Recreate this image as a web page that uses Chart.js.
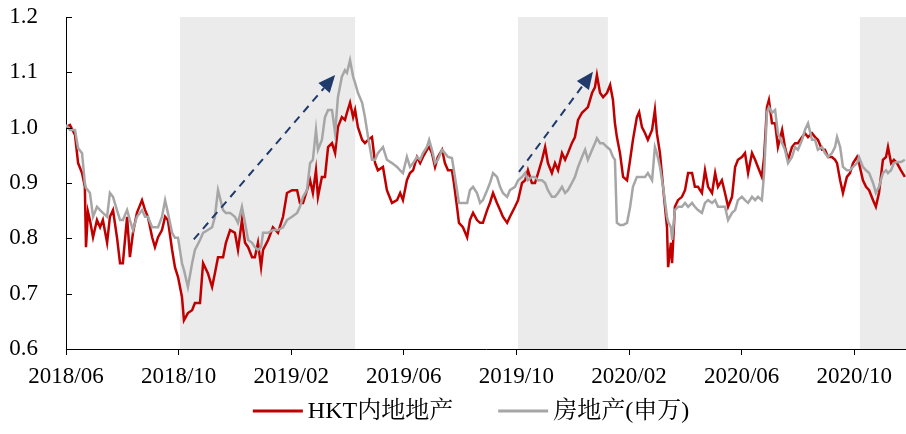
<!DOCTYPE html>
<html>
<head>
<meta charset="utf-8">
<script src="https://cdn.jsdelivr.net/npm/chart.js@4.4.1/dist/chart.umd.min.js"></script>
<style>
  body { margin: 0; background: #fff; }
</style>
</head>
<body>
<canvas id="myChart" width="906" height="434"></canvas>
<script>
// months since 2018/06 (x position of each reading)
const months = [
  0, 0.14, 0.32, 0.43, 0.57, 0.67, 0.71, 0.78, 0.85, 0.96,
  1.10, 1.21, 1.31, 1.46, 1.56, 1.67, 1.81, 1.92, 2.02, 2.17,
  2.27, 2.38, 2.52, 2.70, 2.81, 2.91, 3.06, 3.16, 3.27, 3.41,
  3.52, 3.62, 3.77, 3.87, 3.98, 4.12, 4.19, 4.33, 4.48, 4.58,
  4.76, 4.87, 5.04, 5.19, 5.29, 5.40, 5.58, 5.68, 5.83, 6.00,
  6.11, 6.25, 6.36, 6.47, 6.61, 6.71, 6.82, 6.93, 7.00, 7.18,
  7.35, 7.53, 7.71, 7.85, 8.03, 8.21, 8.31, 8.42, 8.56, 8.67,
  8.77, 8.88, 8.95, 9.09, 9.20, 9.31, 9.45, 9.56, 9.66, 9.80,
  9.91, 9.98, 10.09, 10.20, 10.27, 10.37, 10.52, 10.62, 10.73, 10.87,
  10.98, 11.08, 11.26, 11.40, 11.58, 11.76, 11.87, 11.97, 12.11, 12.22,
  12.33, 12.47, 12.58, 12.68, 12.82, 12.90, 13.00, 13.11, 13.21, 13.36,
  13.46, 13.57, 13.71, 13.78, 13.89, 13.96, 14.10, 14.25, 14.35, 14.46,
  14.60, 14.71, 14.81, 14.96, 15.06, 15.17, 15.31, 15.42, 15.52, 15.67,
  15.77, 15.95, 16.06, 16.20, 16.31, 16.41, 16.55, 16.66, 16.77, 16.91,
  17.02, 17.12, 17.26, 17.37, 17.48, 17.62, 17.73, 17.83, 17.97, 18.08,
  18.19, 18.33, 18.44, 18.54, 18.69, 18.79, 18.86, 18.97, 19.08, 19.22,
  19.33, 19.43, 19.50, 19.57, 19.68, 19.79, 19.93, 20.04, 20.14, 20.28,
  20.36, 20.46, 20.57, 20.67, 20.82, 20.92, 20.99, 21.10, 21.21, 21.35,
  21.39, 21.49, 21.53, 21.63, 21.74, 21.88, 21.99, 22.10, 22.24, 22.34,
  22.45, 22.59, 22.70, 22.81, 22.95, 23.06, 23.16, 23.30, 23.41, 23.52,
  23.66, 23.77, 23.87, 24.01, 24.12, 24.23, 24.37, 24.48, 24.58, 24.72,
  24.80, 24.90, 24.97, 25.08, 25.19, 25.29, 25.44, 25.54, 25.65, 25.79,
  25.90, 26.00, 26.15, 26.25, 26.36, 26.50, 26.61, 26.71, 26.86, 26.96,
  27.07, 27.21, 27.32, 27.39, 27.50, 27.60, 27.74, 27.85, 27.96, 28.10,
  28.17, 28.31, 28.42, 28.53, 28.67, 28.77, 28.88, 29.02, 29.13, 29.20,
  29.31, 29.41, 29.52, 29.66, 29.80
];

// HKT内地地产
const hkt = [
  1.001, 1.005, 0.987, 0.936, 0.918, 0.893, 0.784, 0.848, 0.833, 0.802,
  0.833, 0.820, 0.833, 0.792, 0.839, 0.851, 0.802, 0.755, 0.755, 0.839,
  0.766, 0.810, 0.846, 0.869, 0.851, 0.839, 0.802, 0.784, 0.802, 0.815,
  0.839, 0.833, 0.779, 0.748, 0.730, 0.694, 0.652, 0.665, 0.670, 0.683,
  0.683, 0.755, 0.737, 0.712, 0.737, 0.766, 0.766, 0.792, 0.815, 0.810,
  0.779, 0.833, 0.792, 0.784, 0.766, 0.766, 0.792, 0.748, 0.779, 0.797,
  0.820, 0.810, 0.839, 0.882, 0.887, 0.887, 0.864, 0.864, 0.887, 0.905,
  0.882, 0.923, 0.875, 0.911, 0.911, 0.965, 0.972, 0.954, 1.001, 1.019,
  1.014, 1.027, 1.045, 1.019, 1.032, 1.001, 0.978, 0.972, 0.978, 0.983,
  0.936, 0.923, 0.929, 0.887, 0.864, 0.869, 0.882, 0.869, 0.905, 0.918,
  0.923, 0.947, 0.936, 0.947, 0.960, 0.965, 0.954, 0.929, 0.947, 0.960,
  0.936, 0.923, 0.923, 0.900, 0.857, 0.828, 0.820, 0.802, 0.833, 0.846,
  0.833, 0.828, 0.828, 0.851, 0.864, 0.882, 0.864, 0.851, 0.839, 0.828,
  0.839, 0.857, 0.869, 0.900, 0.905, 0.923, 0.900, 0.900, 0.918, 0.942,
  0.965, 0.936, 0.918, 0.936, 0.923, 0.954, 0.942, 0.954, 0.972, 0.983,
  1.014, 1.027, 1.032, 1.037, 1.063, 1.073, 1.095, 1.063, 1.055, 1.063,
  1.077, 1.050, 1.008, 0.983, 0.954, 0.911, 0.905, 0.942, 0.978, 1.019,
  1.028, 1.001, 0.990, 0.978, 0.996, 1.032, 0.990, 0.954, 0.893, 0.820,
  0.748, 0.792, 0.755, 0.857, 0.869, 0.875, 0.887, 0.918, 0.918, 0.893,
  0.893, 0.882, 0.923, 0.893, 0.882, 0.918, 0.893, 0.905, 0.882, 0.857,
  0.875, 0.929, 0.942, 0.947, 0.954, 0.918, 0.954, 0.942, 0.929, 0.911,
  0.947, 1.037, 1.050, 1.008, 1.008, 0.965, 0.996, 0.965, 0.942, 0.965,
  0.972, 0.972, 0.983, 0.990, 0.983, 0.990, 0.983, 0.978, 0.960, 0.960,
  0.947, 0.947, 0.942, 0.936, 0.905, 0.882, 0.911, 0.918, 0.936, 0.947,
  0.936, 0.905, 0.893, 0.887, 0.869, 0.857, 0.882, 0.942, 0.947, 0.965,
  0.936, 0.942, 0.936, 0.923, 0.911
];

// 房地产(申万)
const sw = [
  1.005, 0.996, 0.996, 0.963, 0.954, 0.900, 0.891, 0.887, 0.882, 0.839,
  0.857, 0.851, 0.846, 0.839, 0.882, 0.875, 0.851, 0.833, 0.833, 0.851,
  0.833, 0.815, 0.839, 0.851, 0.839, 0.839, 0.820, 0.820, 0.820, 0.839,
  0.869, 0.846, 0.810, 0.801, 0.801, 0.755, 0.743, 0.712, 0.755, 0.779,
  0.797, 0.810, 0.815, 0.820, 0.839, 0.887, 0.851, 0.846, 0.846, 0.839,
  0.828, 0.857, 0.828, 0.797, 0.792, 0.784, 0.779, 0.784, 0.810, 0.810,
  0.815, 0.815, 0.820, 0.833, 0.839, 0.846, 0.857, 0.875, 0.887, 0.936,
  0.942, 0.996, 0.960, 0.978, 1.019, 1.032, 1.032, 0.990, 1.055, 1.092,
  1.104, 1.099, 1.122, 1.092, 1.081, 1.063, 1.045, 1.019, 0.983, 0.942,
  0.942, 0.954, 0.965, 0.942, 0.936, 0.929, 0.923, 0.918, 0.947, 0.929,
  0.936, 0.947, 0.942, 0.954, 0.965, 0.978, 0.960, 0.936, 0.942, 0.960,
  0.954, 0.947, 0.945, 0.923, 0.887, 0.864, 0.864, 0.864, 0.887, 0.893,
  0.882, 0.864, 0.869, 0.887, 0.900, 0.918, 0.911, 0.893, 0.882, 0.875,
  0.887, 0.893, 0.905, 0.911, 0.918, 0.905, 0.911, 0.911, 0.905, 0.905,
  0.900, 0.887, 0.875, 0.875, 0.882, 0.893, 0.882, 0.887, 0.900, 0.911,
  0.929, 0.947, 0.960, 0.942, 0.960, 0.972, 0.981, 0.972, 0.972, 0.965,
  0.960, 0.947, 0.942, 0.828, 0.824, 0.824, 0.828, 0.857, 0.893, 0.911,
  0.911, 0.911, 0.911, 0.918, 0.905, 0.965, 0.954, 0.929, 0.893, 0.839,
  0.830, 0.820, 0.797, 0.851, 0.857, 0.857, 0.864, 0.857, 0.864, 0.857,
  0.851, 0.846, 0.864, 0.869, 0.864, 0.869, 0.857, 0.857, 0.857, 0.833,
  0.846, 0.851, 0.869, 0.875, 0.869, 0.864, 0.875, 0.869, 0.875, 0.869,
  0.918, 1.027, 1.037, 1.027, 1.032, 0.990, 0.972, 0.960, 0.936, 0.947,
  0.965, 0.960, 0.978, 0.996, 1.008, 0.978, 0.978, 0.960, 0.965, 0.954,
  0.947, 0.954, 0.965, 0.983, 0.965, 0.929, 0.923, 0.923, 0.929, 0.936,
  0.947, 0.929, 0.923, 0.918, 0.900, 0.882, 0.893, 0.918, 0.923, 0.918,
  0.923, 0.936, 0.938, 0.938, 0.942
];

const tickLabels = ["2018/06", "2018/10", "2019/02", "2019/06", "2019/10", "2020/02", "2020/06", "2020/10"];
const lastMonth = 29.84;

// shaded periods, in months since 2018/06
const shadeStart = [4.05, 16.06, 28.20];
const shadeEnd = [10.27, 19.25, 29.84];

// dashed trend arrows: [x0, y0, x1, y1]
const arrows = [
  [4.54, 0.798, 9.56, 1.095],
  [16.09, 0.920, 18.72, 1.101]
];

const serif = "'Liberation Serif', 'Times New Roman', 'Noto Serif CJK SC', 'Noto Sans CJK SC', serif";

const shadePlugin = {
  id: "shade",
  beforeDatasetsDraw(chart) {
    const { ctx, chartArea, scales } = chart;
    ctx.save();
    ctx.fillStyle = "#ebebeb";
    for (let i = 0; i < shadeStart.length; i++) {
      const x0 = scales.x.getPixelForValue(shadeStart[i]);
      const x1 = scales.x.getPixelForValue(shadeEnd[i]);
      ctx.fillRect(x0, chartArea.top, x1 - x0, chartArea.bottom - chartArea.top);
    }
    ctx.restore();
  }
};

const extrasPlugin = {
  id: "extras",
  afterDatasetsDraw(chart) {
    const { ctx, chartArea, scales } = chart;
    ctx.save();
    // arrows
    ctx.strokeStyle = "#1f3a6b";
    ctx.fillStyle = "#1f3a6b";
    ctx.lineWidth = 2;
    arrows.forEach((a) => {
      const x0 = scales.x.getPixelForValue(a[0]);
      const y0 = scales.y.getPixelForValue(a[1]);
      const x1 = scales.x.getPixelForValue(a[2]);
      const y1 = scales.y.getPixelForValue(a[3]);
      const ang = Math.atan2(y1 - y0, x1 - x0);
      const head = 17;
      const bx = x1 - head * Math.cos(ang);
      const by = y1 - head * Math.sin(ang);
      ctx.setLineDash([8, 6]);
      ctx.beginPath();
      ctx.moveTo(x0, y0);
      ctx.lineTo(bx, by);
      ctx.stroke();
      ctx.setLineDash([]);
      ctx.beginPath();
      ctx.moveTo(x1, y1);
      ctx.lineTo(bx + 7.5 * Math.sin(ang), by - 7.5 * Math.cos(ang));
      ctx.lineTo(bx - 7.5 * Math.sin(ang), by + 7.5 * Math.cos(ang));
      ctx.closePath();
      ctx.fill();
    });
    // inward ticks on the y axis
    ctx.strokeStyle = "#000";
    ctx.lineWidth = 1;
    scales.y.ticks.forEach((t) => {
      const y = Math.round(scales.y.getPixelForValue(t.value)) + 0.5;
      ctx.beginPath();
      ctx.moveTo(chartArea.left, y);
      ctx.lineTo(chartArea.left + 6, y);
      ctx.stroke();
    });
    ctx.restore();
  }
};

// legend drawn under the axis: line sample + label for each dataset
const legendPlugin = {
  id: "bottomLegend",
  afterDraw(chart) {
    const ctx = chart.ctx;
    ctx.save();
    ctx.font = "24px " + serif;
    ctx.textBaseline = "middle";
    const lineW = 50, gapText = 5, gapItem = 45;
    const items = chart.data.datasets.map((ds) => ({
      text: ds.label, color: ds.borderColor, w: ctx.measureText(ds.label).width
    }));
    let total = 0;
    items.forEach((it, i) => { total += lineW + gapText + it.w + (i ? gapItem : 0); });
    let x = 471 - total / 2;
    const y = 411;
    items.forEach((it) => {
      ctx.strokeStyle = it.color;
      ctx.lineWidth = 3;
      ctx.beginPath();
      ctx.moveTo(x, y);
      ctx.lineTo(x + lineW, y);
      ctx.stroke();
      x += lineW + gapText;
      ctx.fillStyle = "#000";
      ctx.fillText(it.text, x, y + 1);
      x += it.w + gapItem;
    });
    ctx.restore();
  }
};

const ctx = document.getElementById("myChart").getContext("2d");
const chart = new Chart(ctx, {
  type: "line",
  data: {
    datasets: [
      {
        label: "HKT内地地产",
        data: months.map((m, i) => ({ x: m, y: hkt[i] })),
        borderColor: "#c00000",
        backgroundColor: "#c00000",
        borderWidth: 2.5,
        pointRadius: 0,
        tension: 0,
        order: 2
      },
      {
        label: "房地产(申万)",
        data: months.map((m, i) => ({ x: m, y: sw[i] })),
        borderColor: "#a6a6a6",
        backgroundColor: "#a6a6a6",
        borderWidth: 2.5,
        pointRadius: 0,
        tension: 0,
        order: 1
      }
    ]
  },
  options: {
    responsive: false,
    animation: false,
    layout: { padding: { left: 0, right: 0, top: 17, bottom: 45 } },
    plugins: {
      tooltip: { enabled: false },
      legend: { display: false }
    },
    scales: {
      x: {
        type: "linear",
        min: 0,
        max: lastMonth,
        grid: { drawOnChartArea: false, drawTicks: true, tickLength: 6, color: "#000" },
        border: { display: true, color: "#000", width: 1 },
        afterBuildTicks: (scale) => {
          scale.ticks = tickLabels.map((_, i) => ({ value: i * 4 }));
        },
        afterFit: (scale) => {
          scale.height = 40;
          scale.paddingLeft = 0;
          scale.paddingRight = 0;
        },
        ticks: {
          padding: 8,
          color: "#000",
          maxRotation: 0,
          autoSkip: false,
          font: { family: serif, size: 23 },
          callback: (v) => tickLabels[Math.round(v / 4)]
        }
      },
      y: {
        min: 0.6,
        max: 1.2,
        grid: { display: false, drawTicks: false },
        border: { display: true, color: "#000", width: 1 },
        afterFit: (scale) => {
          scale.width = 66;
          scale.paddingTop = 0;
          scale.paddingBottom = 0;
        },
        ticks: {
          stepSize: 0.1,
          padding: 28,
          color: "#000",
          font: { family: serif, size: 23 },
          callback: (v) => v.toFixed(1)
        }
      }
    }
  },
  plugins: [shadePlugin, extrasPlugin, legendPlugin]
});
</script>
</body>
</html>
